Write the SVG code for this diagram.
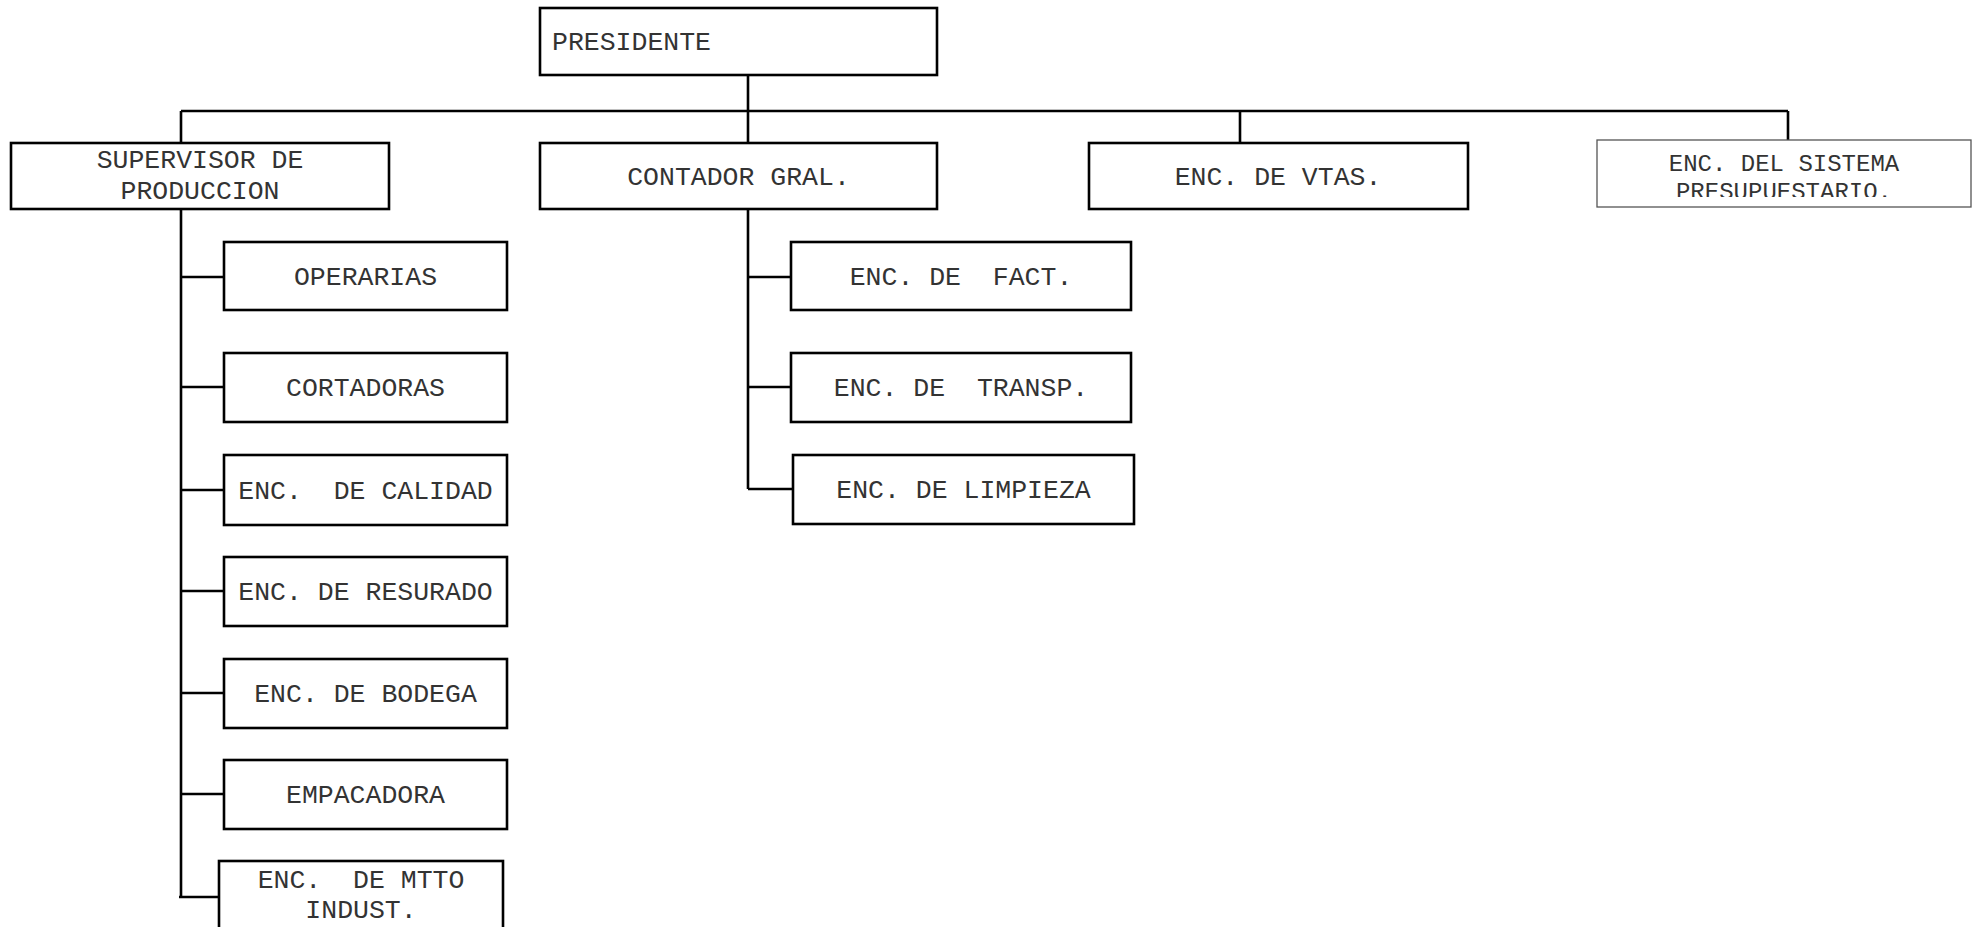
<svg xmlns="http://www.w3.org/2000/svg" width="1981" height="927" viewBox="0 0 1981 927">
<style>
.box{fill:#fff;stroke:#000;stroke-width:2.6}
.thin{fill:#fff;stroke:#555;stroke-width:1.3}
.c{fill:none;stroke:#000;stroke-width:2.6}
text{font-family:"Liberation Mono","Courier New",monospace;font-size:26.5px;fill:#333;white-space:pre}
.m{text-anchor:middle}
.s{font-size:24px}
</style>
<defs>
<clipPath id="clipSis"><rect x="1598" y="141" width="372" height="56"/></clipPath>
</defs>
<rect width="1981" height="927" fill="#fff"/>
<g id="connectors">
<path class="c" d="M748,75 V143 M181,111 H1788 M181,111 V143 M1240,111 V143 M1788,111 V140"/>
<path class="c" d="M181,209 V897 M181,277 H224 M181,387 H224 M181,490 H224 M181,591 H224 M181,693 H224 M181,794 H224 M179,897 H219"/>
<path class="c" d="M748,209 V489 M748,277 H791 M748,387 H791 M748,489 H793"/>
</g>
<g id="presidente"><rect class="box" x="540" y="8" width="397" height="67"/><text x="552" y="50">PRESIDENTE</text></g>
<g id="supervisor"><rect class="box" x="11" y="143" width="378" height="66"/><text class="m" x="200" y="168">SUPERVISOR DE</text><text class="m" x="200" y="199">PRODUCCION</text></g>
<g id="contador"><rect class="box" x="540" y="143" width="397" height="66"/><text class="m" x="738.5" y="185">CONTADOR GRAL.</text></g>
<g id="vtas"><rect class="box" x="1089" y="143" width="379" height="66"/><text class="m" x="1278" y="185">ENC. DE VTAS.</text></g>
<g id="sistema"><rect class="thin" x="1597" y="140" width="374" height="67"/><g clip-path="url(#clipSis)"><text class="m s" x="1784" y="171">ENC. DEL SISTEMA</text><text class="m s" x="1784" y="199">PRESUPUESTARIO.</text></g></g>
<g id="operarias"><rect class="box" x="224" y="242" width="283" height="68"/><text class="m" x="365.5" y="285">OPERARIAS</text></g>
<g id="cortadoras"><rect class="box" x="224" y="353" width="283" height="69"/><text class="m" x="365.5" y="396">CORTADORAS</text></g>
<g id="calidad"><rect class="box" x="224" y="455" width="283" height="70"/><text class="m" x="365.5" y="499">ENC.  DE CALIDAD</text></g>
<g id="resurado"><rect class="box" x="224" y="557" width="283" height="69"/><text class="m" x="365.5" y="600">ENC. DE RESURADO</text></g>
<g id="bodega"><rect class="box" x="224" y="659" width="283" height="69"/><text class="m" x="365.5" y="702">ENC. DE BODEGA</text></g>
<g id="empacadora"><rect class="box" x="224" y="760" width="283" height="69"/><text class="m" x="365.5" y="803">EMPACADORA</text></g>
<g id="mtto"><rect class="box" x="219" y="861" width="284" height="80"/><text class="m" x="361" y="888">ENC.  DE MTTO</text><text class="m" x="361" y="918">INDUST.</text></g>
<g id="fact"><rect class="box" x="791" y="242" width="340" height="68"/><text class="m" x="961" y="285">ENC. DE  FACT.</text></g>
<g id="transp"><rect class="box" x="791" y="353" width="340" height="69"/><text class="m" x="961" y="396">ENC. DE  TRANSP.</text></g>
<g id="limpieza"><rect class="box" x="793" y="455" width="341" height="69"/><text class="m" x="963.5" y="498">ENC. DE LIMPIEZA</text></g>
</svg>
